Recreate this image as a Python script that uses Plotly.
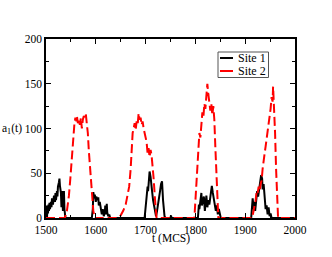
import plotly.graph_objects as go

# Site 1 (black solid)
t_site1 = [1500, 1501, 1502, 1503, 1504, 1505, 1506, 1507, 1508, 1510, 1511, 1512, 1514, 1515, 1516, 1518, 1519, 1520, 1522, 1523, 1524, 1526, 1527, 1528, 1530, 1531, 1532, 1533, 1534, 1535, 1536, 1537, 1538, 1539,
           1592, 1594, 1595, 1597, 1598, 1600, 1601, 1603, 1605, 1606, 1608, 1610, 1612, 1614, 1616, 1618, 1619, 1621, 1622, 1623, 1625, 1627, 1629,
           1698, 1700, 1702, 1704, 1705, 1707, 1708, 1710, 1712, 1713, 1715, 1717, 1719, 1721, 1723, 1725, 1727, 1729, 1731, 1733, 1735, 1736, 1738, 1740,
           1750, 1751, 1752,
           1805, 1807, 1808, 1810, 1812, 1813, 1815, 1817, 1819, 1820, 1822, 1824, 1826, 1828, 1830, 1831, 1833, 1835, 1837, 1839, 1841, 1843, 1845, 1847, 1849, 1851,
           1912, 1914, 1915, 1917, 1918, 1920, 1922, 1924, 1926, 1928, 1930, 1932, 1934, 1935, 1937, 1939, 1941, 1943, 1945, 1947, 1949, 1951, 1953, 1955,
           2000]
a_site1 = [5, 14, 0, 12, 5, 15, 8, 17, 10, 18, 12, 22, 15, 20, 25, 18, 28, 20, 30, 24, 35, 40, 44, 36, 28, 12, 30, 20, 8, 25, 30, 10, 4, 0,
           0, 10, 29, 22, 26, 18, 24, 20, 23, 14, 18, 8, 4, 10, 2, 6, 14, 4, 16, 6, 2, 4, 0,
           0, 10, 25, 35, 30, 42, 52, 46, 38, 30, 20, 12, 5, 2, 8, 14, 20, 30, 38, 41, 20, 8, 2, 0,
           0, 3, 0,
           0, 15, 10, 22, 28, 14, 18, 24, 8, 18, 25, 12, 20, 15, 26, 30, 36, 28, 22, 16, 8, 14, 4, 10, 2, 0,
           0, 15, 22, 10, 18, 8, 20, 30, 24, 34, 40, 48, 44, 32, 38, 20, 10, 14, 4, 12, 2, 5, 0, 0,
           0]

# Site 2 (red dashed)
t_site2 = [1500, 1538, 1542, 1546, 1549, 1552, 1555, 1557, 1559, 1561, 1562, 1564, 1566, 1568, 1570, 1572, 1574, 1576, 1578, 1580, 1582, 1584, 1586, 1589, 1592, 1595, 1598,
           1645, 1650, 1655, 1660, 1664, 1667, 1670, 1672, 1674, 1676, 1678, 1680, 1682, 1684, 1686, 1688, 1690, 1692, 1694, 1696, 1698, 1700, 1702, 1704, 1706, 1708, 1710, 1712, 1714, 1716, 1719, 1722,
           1798, 1800, 1802, 1804, 1806, 1808, 1810, 1812, 1814, 1816, 1818, 1820, 1822, 1824, 1826, 1828, 1830, 1832, 1834, 1836, 1838, 1840, 1842, 1844, 1846,
           1914, 1918, 1921, 1923, 1925, 1927, 1929, 1931, 1933, 1935, 1937, 1939, 1941, 1943, 1945, 1947, 1949, 1951, 1953, 1955, 1956, 1958, 1960, 1962, 1964, 1966,
           2000]
a_site2 = [0, 0, 8, 25, 45, 70, 90, 105, 112, 108, 114, 106, 110, 104, 112, 100, 110, 114, 112, 116, 105, 95, 75, 50, 25, 8, 0,
           0, 3, 8, 15, 25, 35, 55, 80, 95, 100, 106, 98, 108, 104, 117, 110, 112, 104, 108, 100, 95, 88, 85, 72, 78, 68, 76, 70, 60, 45, 20, 0,
           0, 20, 45, 70, 85, 95, 90, 105, 118, 112, 128, 122, 140, 150, 138, 128, 120, 128, 115, 125, 110, 80, 45, 15, 0,
           0, 10, 20, 30, 28, 35, 30, 38, 42, 55, 68, 72, 80, 88, 98, 100, 110, 122, 135, 130, 147, 125, 95, 55, 20, 0,
           0]

series_names = ["Site 1", "Site 2"]
series_colors = ["black", "#ff0000"]
x_ticks = [1500, 1600, 1700, 1800, 1900, 2000]
y_ticks = [0, 50, 100, 150, 200]

font_family = "Liberation Serif, Times New Roman, serif"
FS = 11.5

W, H = 332, 257
ML, MT = 46, 39
MR = W - 295
MB = H - 218
PW, PH = W - ML - MR, H - MT - MB


def px_x(p):
    return (p - ML) / PW


def px_y(p):
    return (H - MB - p) / PH


fig = go.Figure()
fig.add_trace(go.Scatter(x=t_site1, y=a_site1, mode="lines", name=series_names[0],
                         line=dict(color=series_colors[0], width=2)))
fig.add_trace(go.Scatter(x=t_site2, y=a_site2, mode="lines", name=series_names[1],
                         line=dict(color=series_colors[1], width=2, dash="9px,4px")))

axis_common = dict(showline=True, linecolor="black", linewidth=1.5, mirror="ticks",
                   ticks="inside", ticklen=5, tickwidth=1, tickcolor="black",
                   showgrid=False, zeroline=False,
                   tickfont=dict(family=font_family, size=FS, color="black"))

shapes = [dict(type="rect", xref="paper", yref="paper",
               x0=px_x(218), x1=px_x(268.5), y0=px_y(52), y1=px_y(77.5),
               line=dict(color="#555555", width=1), fillcolor="white", layer="above")]
annotations = []
for i, (nm, col) in enumerate(zip(series_names, series_colors)):
    yy = 58 + i * 13
    shapes.append(dict(type="line", xref="paper", yref="paper",
                       x0=px_x(220), x1=px_x(233), y0=px_y(yy), y1=px_y(yy),
                       line=dict(color=col, width=2), layer="above"))
    annotations.append(dict(text=nm, xref="paper", yref="paper", x=px_x(236), y=px_y(yy),
                            xanchor="left", yanchor="middle", showarrow=False,
                            font=dict(family=font_family, size=12, color="black")))

annotations.append(dict(text="a<sub>1</sub>(t)", xref="paper", yref="paper",
                        x=px_x(0), y=px_y(129), xanchor="left", yanchor="middle",
                        showarrow=False, font=dict(family=font_family, size=FS, color="black")))
annotations.append(dict(text="t (MCS)", xref="paper", yref="paper",
                        x=0.5, y=px_y(238), xanchor="center", yanchor="middle",
                        showarrow=False, font=dict(family=font_family, size=FS, color="black")))

fig.update_layout(
    width=W, height=H,
    margin=dict(l=ML, r=MR, t=MT, b=MB, autoexpand=False),
    paper_bgcolor="white", plot_bgcolor="white",
    font=dict(family=font_family, size=FS, color="black"),
    xaxis=dict(range=[1500, 2000], tickvals=x_ticks,
               minor=dict(ticks="inside", ticklen=3, dtick=50, tick0=1500, tickcolor="black"),
               **axis_common),
    yaxis=dict(range=[0, 200], tickvals=y_ticks,
               minor=dict(ticks="inside", ticklen=3, dtick=25, tick0=0, tickcolor="black"),
               **axis_common),
    showlegend=False,
    shapes=shapes,
    annotations=annotations,
)

fig.write_html("out.html", config={"displayModeBar": False},
               post_script="document.body.style.margin='0';document.body.style.padding='0';")
